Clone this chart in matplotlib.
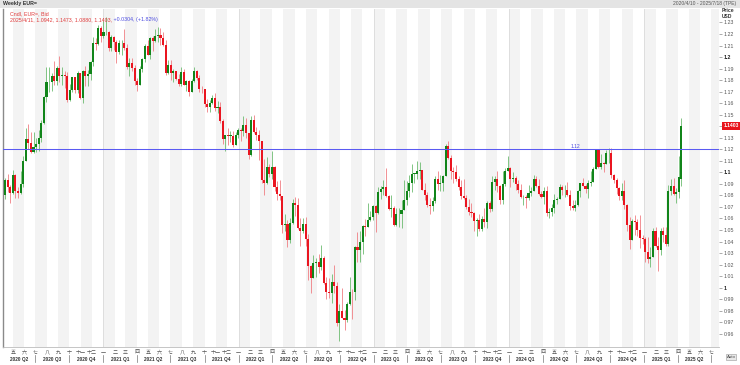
import numpy as np
import pandas as pd
import matplotlib
matplotlib.use('Agg')
import matplotlib.pyplot as plt
import matplotlib.dates as mdates
import matplotlib.transforms as mtransforms
from matplotlib.patches import Rectangle

plt.rcParams['font.family'] = ['Liberation Sans', 'Noto Sans CJK TC', 'DejaVu Sans']

# weekly EUR= bid candles, one bar per Friday from 2020/4/10
first_open = 1.0800
last_open = 1.0942   # open of the final bar, from the header line

closes = [
    # 2020
    1.0935, 1.0875, 1.0820, 1.0980, 1.0840, 1.0820, 1.0900, 1.1100, 1.1290, 1.1255,
    1.1180, 1.1220, 1.1245, 1.1300, 1.1425, 1.1655, 1.1780, 1.1785, 1.1840, 1.1795,
    1.1905, 1.1835, 1.1845, 1.1840, 1.1630, 1.1715, 1.1825, 1.1715, 1.1860, 1.1645,
    1.1875, 1.1835, 1.1855, 1.1960, 1.2120, 1.2110, 1.2255, 1.2185,
    # 2021
    1.2215, 1.2220, 1.2080, 1.2170, 1.2135, 1.2045, 1.2120, 1.2120, 1.2075, 1.1915,
    1.1950, 1.1905, 1.1795, 1.1760, 1.1900, 1.1980, 1.2095, 1.2020, 1.2165, 1.2140,
    1.2180, 1.2190, 1.2165, 1.2105, 1.1865, 1.1935, 1.1865, 1.1875, 1.1810, 1.1770,
    1.1870, 1.1760, 1.1795, 1.1700, 1.1795, 1.1880, 1.1815, 1.1725, 1.1720, 1.1595,
    1.1570, 1.1600, 1.1645, 1.1560, 1.1565, 1.1445, 1.1290, 1.1320, 1.1315, 1.1315,
    1.1240, 1.1325, 1.1370,
    # 2022
    1.1360, 1.1415, 1.1345, 1.1150, 1.1450, 1.1350, 1.1320, 1.1270, 1.0930, 1.0910,
    1.1050, 1.0985, 1.1045, 1.0875, 1.0810, 1.0795, 1.0545, 1.0550, 1.0410, 1.0560,
    1.0730, 1.0720, 1.0520, 1.0495, 1.0555, 1.0425, 1.0185, 1.0085, 1.0210, 1.0225,
    1.0180, 1.0260, 1.0040, 0.9965, 0.9955, 1.0045, 1.0015, 0.9690, 0.9800, 0.9740,
    0.9720, 0.9860, 0.9965, 0.9960, 1.0355, 1.0325, 1.0395, 1.0535, 1.0530, 1.0585,
    1.0615, 1.0705,
    # 2023
    1.0645, 1.0830, 1.0855, 1.0870, 1.0795, 1.0680, 1.0695, 1.0545, 1.0635, 1.0640,
    1.0670, 1.0760, 1.0840, 1.0905, 1.0990, 1.0990, 1.1015, 1.1020, 1.0850, 1.0805,
    1.0720, 1.0710, 1.0750, 1.0940, 1.0895, 1.0910, 1.0970, 1.1230, 1.1125, 1.1015,
    1.1005, 1.0945, 1.0870, 1.0795, 1.0775, 1.0700, 1.0660, 1.0650, 1.0575, 1.0590,
    1.0510, 1.0595, 1.0565, 1.0730, 1.0685, 1.0915, 1.0940, 1.0885, 1.0760, 1.0895,
    1.1010, 1.1040,
    # 2024
    1.0940, 1.0950, 1.0895, 1.0850, 1.0785, 1.0785, 1.0775, 1.0820, 1.0840, 1.0940,
    1.0885, 1.0810, 1.0790, 1.0835, 1.0645, 1.0655, 1.0690, 1.0760, 1.0770, 1.0870,
    1.0845, 1.0850, 1.0800, 1.0705, 1.0690, 1.0715, 1.0840, 1.0905, 1.0885, 1.0855,
    1.0910, 1.0915, 1.1025, 1.1190, 1.1045, 1.1085, 1.1075, 1.1165, 1.1165, 1.0975,
    1.0935, 1.0865, 1.0795, 1.0835, 1.0720, 1.0540, 1.0415, 1.0575, 1.0565, 1.0500,
    1.0430, 1.0425,
    # 2025
    1.0310, 1.0245, 1.0270, 1.0495, 1.0360, 1.0330, 1.0490, 1.0460, 1.0375, 1.0835,
    1.0880, 1.0815, 1.0830, 1.0960, 1.1403,
]

highs = [
    # 2020
    1.0950, 1.0990, 1.0890, 1.1020, 1.0985, 1.0875, 1.1010, 1.1145, 1.1385, 1.1420,
    1.1350, 1.1350, 1.1300, 1.1370, 1.1450, 1.1660, 1.1910, 1.1915, 1.1865, 1.1965,
    1.1925, 1.2010, 1.1915, 1.1880, 1.1870, 1.1770, 1.1830, 1.1815, 1.1880, 1.1860,
    1.1890, 1.1920, 1.1890, 1.1965, 1.2175, 1.2165, 1.2275, 1.2270,
    # 2021
    1.2310, 1.2350, 1.2225, 1.2190, 1.2185, 1.2150, 1.2150, 1.2145, 1.2245, 1.2115,
    1.1990, 1.1990, 1.1935, 1.1815, 1.1925, 1.1995, 1.2115, 1.2150, 1.2170, 1.2180,
    1.2245, 1.2265, 1.2255, 1.2220, 1.2145, 1.1975, 1.1975, 1.1895, 1.1880, 1.1850,
    1.1910, 1.1900, 1.1805, 1.1805, 1.1810, 1.1910, 1.1885, 1.1845, 1.1750, 1.1725,
    1.1640, 1.1625, 1.1670, 1.1690, 1.1615, 1.1610, 1.1465, 1.1325, 1.1385, 1.1355,
    1.1360, 1.1350, 1.1385,
    # 2022
    1.1385, 1.1485, 1.1470, 1.1345, 1.1485, 1.1495, 1.1395, 1.1365, 1.1275, 1.1120,
    1.1135, 1.1070, 1.1185, 1.1055, 1.0925, 1.0935, 1.0790, 1.0640, 1.0590, 1.0605,
    1.0765, 1.0785, 1.0775, 1.0600, 1.0605, 1.0615, 1.0465, 1.0200, 1.0280, 1.0255,
    1.0295, 1.0370, 1.0275, 1.0090, 1.0080, 1.0115, 1.0195, 1.0050, 0.9855, 0.9995,
    0.9810, 0.9875, 1.0095, 0.9990, 1.0365, 1.0480, 1.0495, 1.0545, 1.0595, 1.0735,
    1.0665, 1.0715,
    # 2023
    1.0715, 1.0875, 1.0885, 1.0930, 1.1035, 1.0800, 1.0805, 1.0705, 1.0690, 1.0695,
    1.0760, 1.0930, 1.0925, 1.0975, 1.1075, 1.0995, 1.1095, 1.1090, 1.1005, 1.0905,
    1.0830, 1.0780, 1.0790, 1.0970, 1.1010, 1.0975, 1.0975, 1.1245, 1.1275, 1.1150,
    1.1045, 1.1065, 1.0965, 1.0930, 1.0945, 1.0800, 1.0770, 1.0735, 1.0655, 1.0600,
    1.0640, 1.0625, 1.0695, 1.0750, 1.0755, 1.0965, 1.0965, 1.1015, 1.0890, 1.1010,
    1.1040, 1.1140,
    # 2024
    1.1045, 1.1000, 1.0970, 1.0935, 1.0895, 1.0805, 1.0805, 1.0890, 1.0870, 1.0980,
    1.0965, 1.0940, 1.0840, 1.0875, 1.0885, 1.0690, 1.0725, 1.0810, 1.0790, 1.0895,
    1.0890, 1.0890, 1.0915, 1.0850, 1.0760, 1.0760, 1.0845, 1.0910, 1.0950, 1.0895,
    1.0930, 1.1010, 1.1045, 1.1200, 1.1200, 1.1155, 1.1090, 1.1190, 1.1215, 1.1210,
    1.0985, 1.0955, 1.0870, 1.0905, 1.0935, 1.0725, 1.0610, 1.0595, 1.0630, 1.0595,
    1.0630, 1.0455,
    # 2025
    1.0435, 1.0435, 1.0355, 1.0520, 1.0530, 1.0440, 1.0515, 1.0530, 1.0530, 1.0890,
    1.0945, 1.0955, 1.0860, 1.1145, 1.1473,
]

lows = [
    # 2020
    1.0770, 1.0830, 1.0730, 1.0810, 1.0780, 1.0775, 1.0815, 1.0870, 1.1100, 1.1200,
    1.1170, 1.1170, 1.1180, 1.1185, 1.1260, 1.1420, 1.1610, 1.1700, 1.1710, 1.1755,
    1.1760, 1.1780, 1.1755, 1.1735, 1.1610, 1.1615, 1.1700, 1.1690, 1.1690, 1.1640,
    1.1600, 1.1745, 1.1745, 1.1800, 1.1925, 1.2060, 1.2105, 1.2130,
    # 2021
    1.2165, 1.2195, 1.2055, 1.2055, 1.2060, 1.1950, 1.2025, 1.2020, 1.2060, 1.1895,
    1.1835, 1.1875, 1.1760, 1.1705, 1.1760, 1.1870, 1.1955, 1.2015, 1.1985, 1.2050,
    1.2135, 1.2135, 1.2105, 1.2095, 1.1845, 1.1850, 1.1805, 1.1780, 1.1800, 1.1750,
    1.1750, 1.1755, 1.1705, 1.1665, 1.1695, 1.1780, 1.1800, 1.1700, 1.1685, 1.1565,
    1.1525, 1.1525, 1.1590, 1.1535, 1.1515, 1.1430, 1.1250, 1.1185, 1.1235, 1.1265,
    1.1220, 1.1235, 1.1295,
    # 2022
    1.1270, 1.1315, 1.1300, 1.1120, 1.1140, 1.1340, 1.1280, 1.1105, 1.0905, 1.0805,
    1.0900, 1.0960, 1.0945, 1.0835, 1.0760, 1.0760, 1.0470, 1.0490, 1.0350, 1.0390,
    1.0550, 1.0625, 1.0505, 1.0360, 1.0470, 1.0365, 1.0070, 0.9950, 1.0080, 1.0095,
    1.0125, 1.0150, 1.0035, 0.9900, 0.9910, 0.9865, 0.9955, 0.9670, 0.9535, 0.9735,
    0.9630, 0.9705, 0.9850, 0.9730, 0.9895, 1.0225, 1.0220, 1.0290, 1.0445, 1.0525,
    1.0575, 1.0590,
    # 2023
    1.0485, 1.0640, 1.0765, 1.0805, 1.0785, 1.0670, 1.0615, 1.0535, 1.0535, 1.0525,
    1.0515, 1.0715, 1.0715, 1.0790, 1.0830, 1.0910, 1.0940, 1.0940, 1.0845, 1.0760,
    1.0700, 1.0635, 1.0665, 1.0730, 1.0845, 1.0835, 1.0835, 1.0965, 1.1115, 1.0945,
    1.0910, 1.0925, 1.0845, 1.0765, 1.0770, 1.0685, 1.0630, 1.0615, 1.0490, 1.0450,
    1.0495, 1.0495, 1.0525, 1.0515, 1.0655, 1.0665, 1.0850, 1.0830, 1.0725, 1.0725,
    1.0880, 1.1010,
    # 2024
    1.0875, 1.0920, 1.0845, 1.0820, 1.0780, 1.0720, 1.0695, 1.0760, 1.0795, 1.0835,
    1.0875, 1.0800, 1.0775, 1.0725, 1.0620, 1.0600, 1.0625, 1.0650, 1.0725, 1.0765,
    1.0805, 1.0790, 1.0795, 1.0670, 1.0670, 1.0665, 1.0710, 1.0790, 1.0880, 1.0825,
    1.0780, 1.0880, 1.0920, 1.1030, 1.1040, 1.1025, 1.1000, 1.1070, 1.1080, 1.0950,
    1.0910, 1.0810, 1.0760, 1.0760, 1.0680, 1.0495, 1.0335, 1.0420, 1.0460, 1.0450,
    1.0345, 1.0380,
    # 2025
    1.0225, 1.0215, 1.0180, 1.0265, 1.0355, 1.0140, 1.0285, 1.0400, 1.0360, 1.0360,
    1.0805, 1.0800, 1.0735, 1.0775, 1.0880,
]

level_line = 1.12
header_left = 'Weekly EUR='
header_right = '2020/4/10 - 2025/7/18 (TPE)'
legend_name = 'Cndl, EUR=, Bid'
legend_values = '2025/4/11, 1.0942, 1.1473, 1.0880, 1.1403,'
legend_change = '+0.0304, (+1.82%)'
month_names = ['一', '二', '三', '四', '五', '六', '七', '八', '九', '十', '十一', '十二']

# ---- build OHLC frame
opens = [first_open] + closes[:-1]
opens[-1] = last_open
df = pd.DataFrame({'open': opens, 'high': highs, 'low': lows, 'close': closes})
df['high'] = df[['open', 'high', 'close']].max(axis=1)
df['low'] = df[['open', 'low', 'close']].min(axis=1)
df.index = pd.date_range('2020-04-10', periods=len(df), freq='7D')

W, H = 740, 365
fig = plt.figure(figsize=(W / 100, H / 100), dpi=100)
fig.patch.set_facecolor('white')

# plot area in pixels
left_px, right_px, top_px, bottom_px = 3, 719, 9, 347
ax = fig.add_axes([left_px / W, 1 - bottom_px / H, (right_px - left_px) / W, (bottom_px - top_px) / H])

x0 = mdates.date2num(pd.Timestamp('2020-04-10')) - 5.4
x1 = mdates.date2num(pd.Timestamp('2025-07-18')) + 3.5
ax.set_xlim(x0, x1)
ax.set_ylim(0.9485, 1.2417)

# alternating month bands and year lines
months = pd.date_range('2020-04-01', '2025-09-01', freq='MS')
for a, b in zip(months[:-1], months[1:]):
    if a.month % 2 == 1:
        ax.axvspan(mdates.date2num(a), mdates.date2num(b), color='#f3f3f3', lw=0, zorder=0)
    if a.month == 1:
        ax.axvline(mdates.date2num(a), color='#dadada', lw=0.6, zorder=0.5)

# candles
xs = mdates.date2num(df.index)
up = df['close'] >= df['open']
green, red = '#11851a', '#ea1520'
cols = np.where(up, green, red)
wick_cols = np.where(up, '#6dbb70', '#f07e83')
ax.vlines(xs, df['low'], df['high'], colors=wick_cols, lw=0.6, zorder=2)
body_lo = np.minimum(df['open'], df['close'])
body_h = np.maximum(np.abs(df['close'] - df['open']), 0.0005)
ax.bar(xs, body_h, bottom=body_lo, width=5.6, color=cols, lw=0, zorder=3)

# 1.12 level line
ax.axhline(level_line, color='#5a5af2', lw=0.75, zorder=4)
ax.text(mdates.date2num(pd.Timestamp('2024-06-29')), level_line + 0.0004, f'{level_line:.2f}',
        color='#4a4ae0', fontsize=3.6, ha='center', va='bottom', zorder=5)

# right price axis
ticks = np.round(np.arange(0.96, 1.2301, 0.01), 2)
last_close = df['close'].iloc[-1]
ax.yaxis.tick_right()
ax.set_yticks(ticks)
labels = []
for t in ticks:
    if abs(t - last_close) < 0.004:
        labels.append('')          # hidden behind the price tag
    elif abs(t * 10 - round(t * 10)) < 1e-6:
        labels.append(f'{t:g}')
    else:
        labels.append(f'{t:.2f}')
ax.set_yticklabels(labels)
ax.tick_params(axis='y', labelsize=3.8, length=2, width=0.5, color='#888888',
               labelcolor='#555555', pad=1.5)
for lab, t in zip(ax.get_yticklabels(), ticks):
    if abs(t * 10 - round(t * 10)) < 1e-6:
        lab.set_fontweight('bold')
        lab.set_color('#222222')
ax.set_xticks([])

for s in ['top', 'right']:
    ax.spines[s].set_visible(False)
ax.spines['left'].set_color('#8a8a8a')
ax.spines['left'].set_linewidth(1.0)
ax.spines['bottom'].set_color('#bbbbbb')
ax.spines['bottom'].set_linewidth(0.6)

# last price tag
ax.text(1.006, last_close, f'{last_close:.4f}', transform=ax.get_yaxis_transform(),
        fontsize=3.6, color='white', fontweight='bold', ha='left', va='center', clip_on=False, zorder=6,
        bbox=dict(boxstyle='square,pad=0.25', fc='#e8141b', ec='none'))

# price/currency caption at the top of the price axis
fig.text(722 / W, 1 - 10.5 / H, 'Price', fontsize=3.6, fontweight='bold', color='#333333',
         ha='left', va='center')
fig.text(722 / W, 1 - 16 / H, 'USD', fontsize=3.6, fontweight='bold', color='#333333',
         ha='left', va='center')

# legend lines in the plot
ax.text(0.010, 0.9935, legend_name, transform=ax.transAxes, fontsize=3.8, color='#e03a3a',
        ha='left', va='top', zorder=6)
t1 = ax.text(0.010, 0.9760, legend_values, transform=ax.transAxes, fontsize=3.8, color='#e03a3a',
             ha='left', va='top', zorder=6)
fig.canvas.draw()
bb = t1.get_window_extent()
ax.annotate(' ' + legend_change, xy=(bb.x1, bb.y1), xycoords='figure pixels', fontsize=3.8,
            color='#4a4ae0', ha='left', va='top', zorder=6)

# month row and quarter row under the plot
trans = mtransforms.blended_transform_factory(ax.transData, fig.transFigure)
for m in months:
    if m < pd.Timestamp('2020-05-01') or m > pd.Timestamp('2025-07-01'):
        continue
    ax.text(mdates.date2num(m), 1 - 352 / H, month_names[m.month - 1], transform=trans,
            fontsize=3.6, color='#555555', ha='center', va='center', clip_on=False)
quarters = pd.date_range('2020-04-01', '2025-07-01', freq='QS')
for q in quarters:
    qa = max(mdates.date2num(q), x0)
    qb = mdates.date2num(q + pd.offsets.QuarterBegin(startingMonth=1))
    qb = min(qb, x1)
    if q.month != 4 or q.year != 2020:
        ax.plot([mdates.date2num(q)] * 2, [1 - 355 / H, 1 - 362 / H], transform=trans,
                color='#777777', lw=0.5, clip_on=False)
    if q >= pd.Timestamp('2025-07-01'):
        continue
    ax.text((qa + qb) / 2, 1 - 359.5 / H, f'{q.year} Q{(q.month - 1) // 3 + 1}', transform=trans,
            fontsize=3.4, color='#333333', fontweight='bold', ha='center', va='center', clip_on=False)

# header strip
fig.patches.append(Rectangle((0, 1 - 8 / H), 1, 8 / H, transform=fig.transFigure,
                             facecolor='#e4e4e4', edgecolor='none', zorder=-1))
fig.text(3 / W, 1 - 4 / H, header_left, fontsize=3.8, color='#333333', fontweight='bold',
         ha='left', va='center')
fig.text(736 / W, 1 - 4 / H, header_right, fontsize=3.6, color='#555555', ha='right', va='center')

# auto button
fig.text(731 / W, 1 - 357 / H, 'Auto', fontsize=3.2, color='#444444', ha='center', va='center',
         bbox=dict(boxstyle='square,pad=0.2', fc='#e8e8e8', ec='#999999', lw=0.4))

fig.savefig('out.png', dpi=100)
